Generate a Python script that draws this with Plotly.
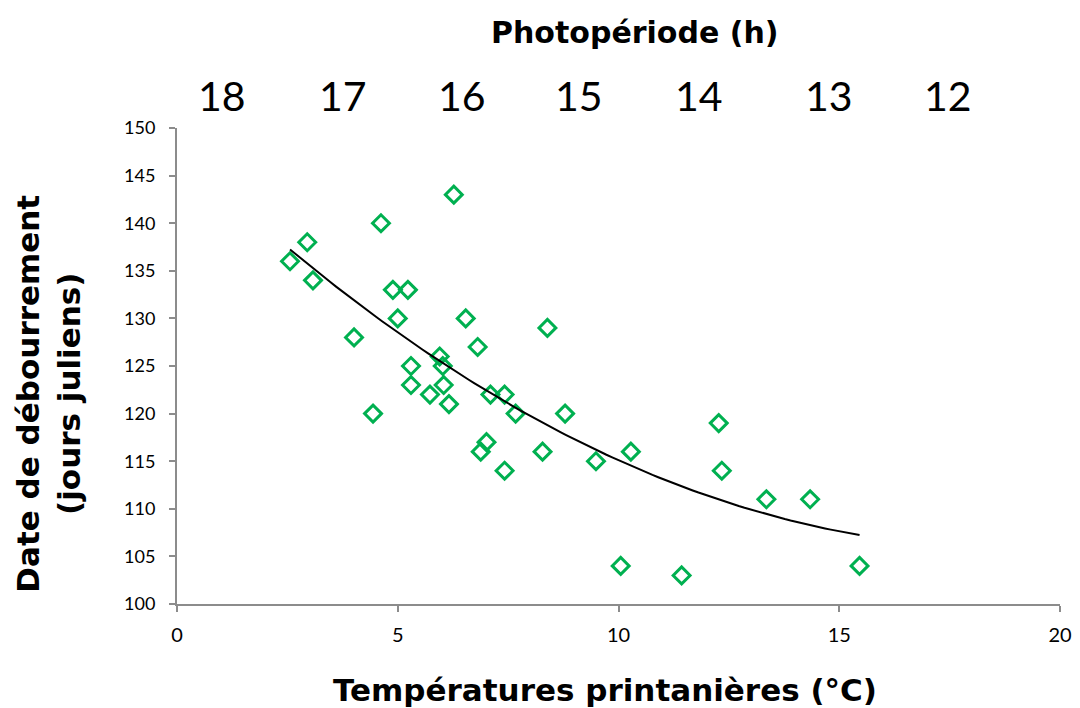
import numpy as np
import plotly.graph_objects as go

temperature = [2.56, 2.95, 3.08, 4.01, 4.44, 4.62, 4.89, 5.00, 5.23, 5.30, 5.30, 5.73,
               5.95, 6.02, 6.04, 6.16, 6.27, 6.54, 6.81, 6.88, 7.01, 7.10, 7.42, 7.42,
               7.67, 8.28, 8.39, 8.79, 9.49, 10.05, 10.28, 11.43, 12.27, 12.34, 13.35,
               14.34, 15.46]
budburst = [136, 138, 134, 128, 120, 140, 133, 130, 133, 125, 123, 122,
            126, 125, 123, 121, 143, 130, 127, 116, 117, 122, 122, 114,
            120, 116, 129, 120, 115, 104, 116, 103, 119, 114, 111,
            111, 104]

photo_labels = ["18", "17", "16", "15", "14", "13", "12"]
photo_pos = [1.03, 3.76, 6.45, 9.11, 11.82, 14.76, 17.47]

# second-order polynomial trendline fitted to the data
coef = np.polyfit(temperature, budburst, 2)
tx = np.linspace(min(temperature), max(temperature), 100)
ty = np.polyval(coef, tx)

FONT = "Lato"
TFONT = "DejaVu Sans"
fig = go.Figure()
fig.add_trace(go.Scatter(x=temperature, y=budburst, mode="markers",
                         marker=dict(symbol="diamond-open", size=13, color="#00B050",
                                     line=dict(width=3, color="#00B050")),
                         showlegend=False, hoverinfo="x+y"))
fig.add_trace(go.Scatter(x=tx, y=ty, mode="lines", line=dict(color="black", width=2),
                         showlegend=False, hoverinfo="skip"))

for lab, pos in zip(photo_labels, photo_pos):
    fig.add_annotation(x=pos, xref="x", y=1, yref="paper", yanchor="bottom", yshift=6,
                       text=lab, showarrow=False, font=dict(family=FONT, size=41, color="black"))
fig.add_annotation(x=0.518, xref="paper", y=1, yref="paper", yanchor="bottom", yshift=76,
                   text="<b>Photopériode (h)</b>", showarrow=False,
                   font=dict(family=TFONT, size=30, color="black"))
fig.add_annotation(x=0.485, xref="paper", y=-0.181, yref="paper", yanchor="middle",
                   text="<b>Températures printanières (°C)</b>", showarrow=False,
                   font=dict(family=TFONT, size=31, color="black"))
fig.add_annotation(x=-0.146, xref="paper", y=0.442, yref="paper", xanchor="center",
                   yanchor="middle", textangle=-90,
                   text="<b>Date de débourrement<br>(jours juliens)</b>", showarrow=False,
                   font=dict(family=TFONT, size=31, color="black"))

fig.update_layout(
    width=1080, height=708,
    margin=dict(l=177, r=20, t=128, b=104),
    paper_bgcolor="white", plot_bgcolor="white",
    font=dict(family=FONT, color="black"),
    xaxis=dict(range=[0, 20], tickvals=[0, 5, 10, 15, 20], showgrid=False, zeroline=False,
               showline=True, linecolor="#8c8c8c", linewidth=2, ticks="outside",
               tickcolor="#8c8c8c", ticklen=6, tickwidth=2, automargin=False,
               ticklabelstandoff=6,
               tickfont=dict(family=FONT, size=20, color="black")),
    yaxis=dict(range=[100, 150], tickvals=list(range(100, 151, 5)), showgrid=False,
               zeroline=False, showline=True, linecolor="#8c8c8c", linewidth=2,
               ticks="outside", tickcolor="#8c8c8c", ticklen=6, tickwidth=2,
               automargin=False, ticklabelstandoff=10,
               tickfont=dict(family=FONT, size=18, color="black")),
)
fig.write_html("out.html")
